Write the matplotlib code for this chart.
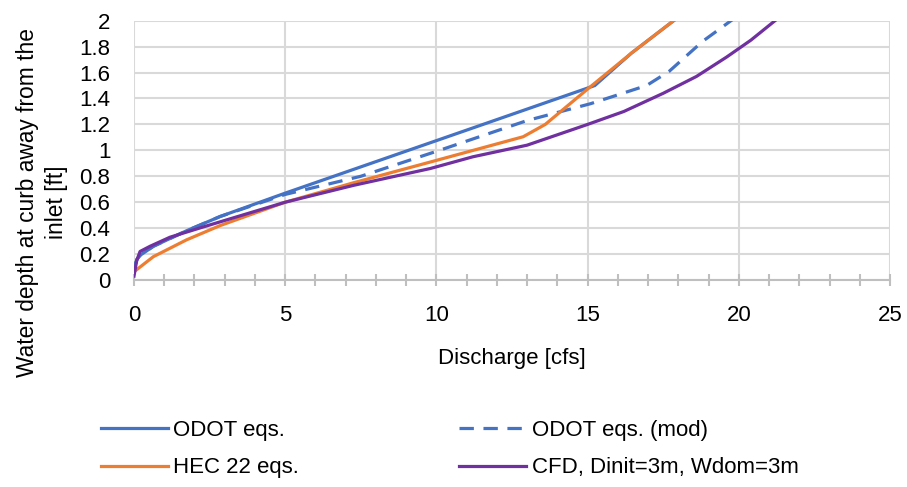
import matplotlib
matplotlib.use("Agg")
import matplotlib.pyplot as plt
from matplotlib.ticker import MultipleLocator

plt.rcParams['font.family'] = ['Liberation Sans', 'DejaVu Sans']

# ODOT eqs.
odot_q = [0.01, 0.1, 0.2, 0.64, 1.74, 2.85, 5.0, 10.0, 15.24, 16.45, 17.9, 18.5]
odot_d = [0.10, 0.16, 0.19, 0.26, 0.38, 0.49, 0.67, 1.075, 1.50, 1.75, 2.01, 2.12]

# ODOT eqs. (mod)
mod_q = [0.01, 0.1, 0.2, 0.64, 1.74, 2.85, 5.0, 7.5, 10.1, 13.0, 15.1, 16.95, 17.7, 18.8, 19.8, 20.3]
mod_d = [0.10, 0.16, 0.19, 0.26, 0.38, 0.49, 0.66, 0.80, 1.00, 1.23, 1.36, 1.50, 1.61, 1.84, 2.01, 2.10]

# HEC 22 eqs.
hec_q = [0.01, 0.2, 0.64, 1.74, 2.85, 5.0, 7.26, 9.8, 12.87, 13.6, 14.96, 16.45, 17.9, 18.5]
hec_d = [0.065, 0.10, 0.18, 0.31, 0.42, 0.60, 0.75, 0.91, 1.105, 1.20, 1.465, 1.75, 2.01, 2.12]

# CFD, Dinit=3m, Wdom=3m
cfd_q = [0.0, 0.09, 0.2, 0.53, 1.19, 2.3, 5.0, 7.26, 9.8, 11.2, 13.0, 14.0, 15.0, 16.2, 17.5, 18.6, 19.6, 20.4, 21.25, 21.7]
cfd_d = [0.03, 0.15, 0.22, 0.26, 0.33, 0.41, 0.60, 0.73, 0.86, 0.95, 1.04, 1.12, 1.20, 1.30, 1.44, 1.57, 1.72, 1.85, 2.01, 2.09]

x_ticks = [0, 5, 10, 15, 20, 25]
y_ticks = [0, 0.2, 0.4, 0.6, 0.8, 1, 1.2, 1.4, 1.6, 1.8, 2]
y_labels = ['0', '0.2', '0.4', '0.6', '0.8', '1', '1.2', '1.4', '1.6', '1.8', '2']

fig = plt.figure(figsize=(9.07, 4.87), dpi=100)
ax = fig.add_axes([134/907, 1-280/487, (890-134)/907, (280-20.7)/487])

blue = '#4472C4'
orange = '#ED7D31'
purple = '#7030A0'
lw = 2.3

l1, = ax.plot(odot_q, odot_d, color=blue, lw=lw, label='ODOT eqs.')
l2, = ax.plot(mod_q, mod_d, color=blue, lw=lw, ls=(0, (4.5, 3)), label='ODOT eqs. (mod)')
l3, = ax.plot(hec_q, hec_d, color=orange, lw=lw, label='HEC 22 eqs.')
l4, = ax.plot(cfd_q, cfd_d, color=purple, lw=lw, label='CFD, Dinit=3m, Wdom=3m')

ax.set_xlim(0, 25)
ax.set_ylim(0, 2)
ax.set_xticks(x_ticks)
ax.set_yticks(y_ticks)
ax.set_yticklabels(y_labels)
ax.xaxis.set_minor_locator(MultipleLocator(1))
ax.grid(True, which='major', color='#d9d9d9', lw=1.5)
ax.set_axisbelow(True)
for s in ['top', 'right', 'left']:
    ax.spines[s].set_visible(False)
ax.spines['bottom'].set_color('#bfbfbf')
ax.spines['bottom'].set_linewidth(1.5)
ax.tick_params(axis='x', which='both', direction='inout', length=8, width=1.5, color='#bfbfbf', labelsize=16, pad=14)
ax.tick_params(axis='y', length=0, labelsize=16, pad=17)
ax.set_xlabel('Discharge [cfs]', fontsize=16, labelpad=16)
ax.set_ylabel('Water depth at curb away from the\ninlet [ft]', fontsize=16.4, linespacing=1.35)
ax.yaxis.set_label_coords(-0.0873, 0.30)

fig.legend([l1, l3, l2, l4], [l1.get_label(), l3.get_label(), l2.get_label(), l4.get_label()],
           loc='center', bbox_to_anchor=(0.496, 0.078), ncol=2, frameon=False, fontsize=16,
           handlelength=3.0, handletextpad=0.25, columnspacing=7.2, labelspacing=0.75)

fig.savefig('out.png', dpi=100)
